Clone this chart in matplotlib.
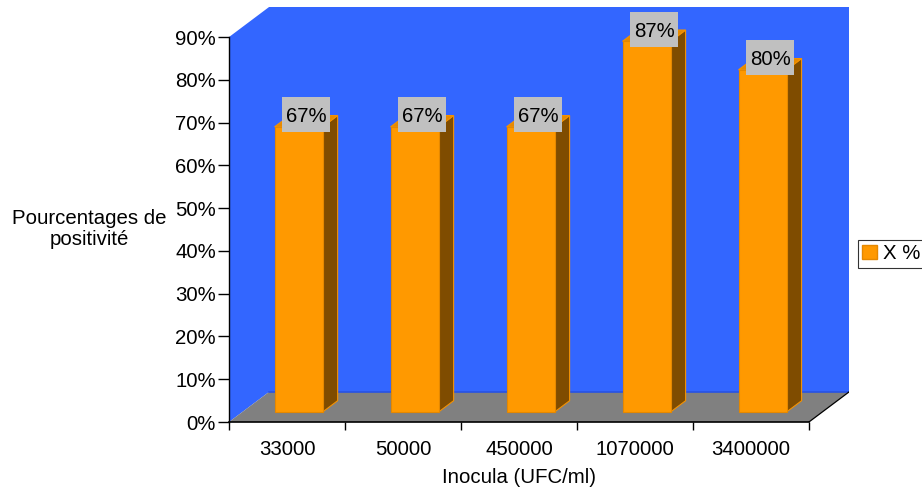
import matplotlib
matplotlib.use("Agg")
import matplotlib.pyplot as plt
import matplotlib.transforms as mtransforms
from matplotlib.patches import Polygon, Patch, Rectangle

# ---- data -------------------------------------------------------------
inocula = ["33000", "50000", "450000", "1070000", "3400000"]
positivity = [66.67, 66.67, 66.67, 86.67, 80.0]   # % positive per inoculum
series_name = "X %"
y_ticks = [0, 10, 20, 30, 40, 50, 60, 70, 80, 90]
y_tick_labels = [f"{t}%" for t in y_ticks]

# ---- style / pseudo-3D geometry --------------------------------------
WALL = "#3366FF"
FLOOR = "#808080"
BAR_FRONT = "#FF9900"
BAR_SIDE = "#7F4C00"
BAR_TOP = "#E68A00"
BAR_EDGE = "#F59200"
LABEL_BG = "#C0C0C0"

DX, DY = 0.3454, 7.03        # depth offset (category units, percent units)
D0, D1 = 1 / 3, 0.708        # front / back depth of the bars
BAR_LEFT, BAR_W = 0.278, 0.414
YMAX = 90
FS = 14.7
LABEL_BOX = (0.48, 0.35)     # value-label box size, inches

plt.rcParams["font.family"] = ["Liberation Sans", "DejaVu Sans"]

fig = plt.figure(figsize=(9.22, 4.90), dpi=100)
fig.patch.set_facecolor("white")
ax = fig.add_axes([229 / 922, 68 / 490, 620 / 922, 415 / 490])
ax.set_xlim(0, len(inocula) + DX)
ax.set_ylim(0, YMAX + DY)
ax.patch.set_visible(False)


def proj(x, y, d):
    return (x + d * DX, y + d * DY)


n = len(inocula)

# walls and floor
left_wall = [proj(0, 0, 0), proj(0, YMAX, 0), proj(0, YMAX, 1), proj(0, 0, 1)]
back_wall = [proj(0, 0, 1), proj(n, 0, 1), proj(n, YMAX, 1), proj(0, YMAX, 1)]
floor = [proj(0, 0, 0), proj(n, 0, 0), proj(n, 0, 1), proj(0, 0, 1)]
ax.add_patch(Polygon(left_wall, closed=True, fc=WALL, ec="none", zorder=0.5))
ax.add_patch(Polygon(back_wall, closed=True, fc=WALL, ec="none", zorder=0.5))
ax.add_patch(Polygon(floor, closed=True, fc=FLOOR, ec="none", zorder=0.6))
bx, by = zip(proj(0, 0, 1), proj(n, 0, 1))
ax.plot(bx, by, color="#2652E6", lw=1.2, zorder=0.7)
rx, ry = zip(proj(n, 0, 0), proj(n, 0, 1))
ax.plot(rx, ry, color="black", lw=0.9, zorder=0.7)

# bars
for i, v in enumerate(positivity):
    x0 = i + BAR_LEFT
    x1 = x0 + BAR_W
    front = [proj(x0, 0, D0), proj(x1, 0, D0), proj(x1, v, D0), proj(x0, v, D0)]
    side = [proj(x1, 0, D0), proj(x1, 0, D1), proj(x1, v, D1), proj(x1, v, D0)]
    top = [proj(x0, v, D0), proj(x1, v, D0), proj(x1, v, D1), proj(x0, v, D1)]
    ax.add_patch(Polygon(side, closed=True, fc=BAR_SIDE, ec=BAR_EDGE, lw=0.8, zorder=2))
    ax.add_patch(Polygon(top, closed=True, fc=BAR_TOP, ec=BAR_EDGE, lw=0.8, zorder=2))
    ax.add_patch(Polygon(front, closed=True, fc=BAR_FRONT, ec="#E58800", lw=0.8, zorder=2.1))

    # value label in a grey box, centred just above the bar top
    lx, ly = proj(x0 + BAR_W / 2, v, (D0 + D1) / 2)
    anchor = mtransforms.ScaledTranslation(lx, ly, ax.transData)
    lift = mtransforms.ScaledTranslation(0, 0.065, fig.dpi_scale_trans)
    box_tr = fig.dpi_scale_trans + anchor + lift
    bw, bh = LABEL_BOX
    ax.add_patch(Rectangle((-bw / 2, -bh / 2), bw, bh, transform=box_tr, fc=LABEL_BG,
                           ec="none", zorder=4, clip_on=False))
    ax.text(0, 0, f"{round(v)}%", transform=box_tr, ha="center", va="center_baseline",
            fontsize=FS, color="black", zorder=5)

# axes
for s in ("top", "right"):
    ax.spines[s].set_visible(False)
ax.spines["left"].set_bounds(0, YMAX)
ax.spines["bottom"].set_bounds(0, n)
ax.spines["left"].set_linewidth(1.0)
ax.spines["bottom"].set_linewidth(1.2)

ax.set_yticks(y_ticks)
ax.set_yticklabels(y_tick_labels, fontsize=FS)
ax.tick_params(axis="y", direction="out", length=8, width=1, pad=1.5)

ax.set_xticks(range(n + 1))
ax.set_xticklabels([])
ax.set_xticks([i + 0.5 for i in range(n)], minor=True)
ax.set_xticklabels(inocula, minor=True, fontsize=FS)
ax.tick_params(axis="x", which="major", direction="out", length=6, width=1)
ax.tick_params(axis="x", which="minor", length=0, pad=13)

ax.annotate("Inocula (UFC/ml)", xy=(n / 2, 0), xytext=(0, -33), textcoords="offset points",
            ha="center", va="top", fontsize=FS)
fig.text(89 / 922, 1 - 229 / 490, "Pourcentages de\npositivité", ha="center", va="center",
         fontsize=FS, linespacing=1.1)

leg = fig.legend(handles=[Patch(fc=BAR_FRONT, ec="#E58800")], labels=[series_name],
                 loc="upper left", bbox_to_anchor=(858 / 922, 1 - 240 / 490),
                 fontsize=FS, frameon=True, fancybox=False, borderpad=0.22,
                 handlelength=0.7, handleheight=0.7, handletextpad=0.3, borderaxespad=0)
leg.get_frame().set_edgecolor("black")
leg.get_frame().set_linewidth(0.8)

fig.savefig("out.png", dpi=100)
